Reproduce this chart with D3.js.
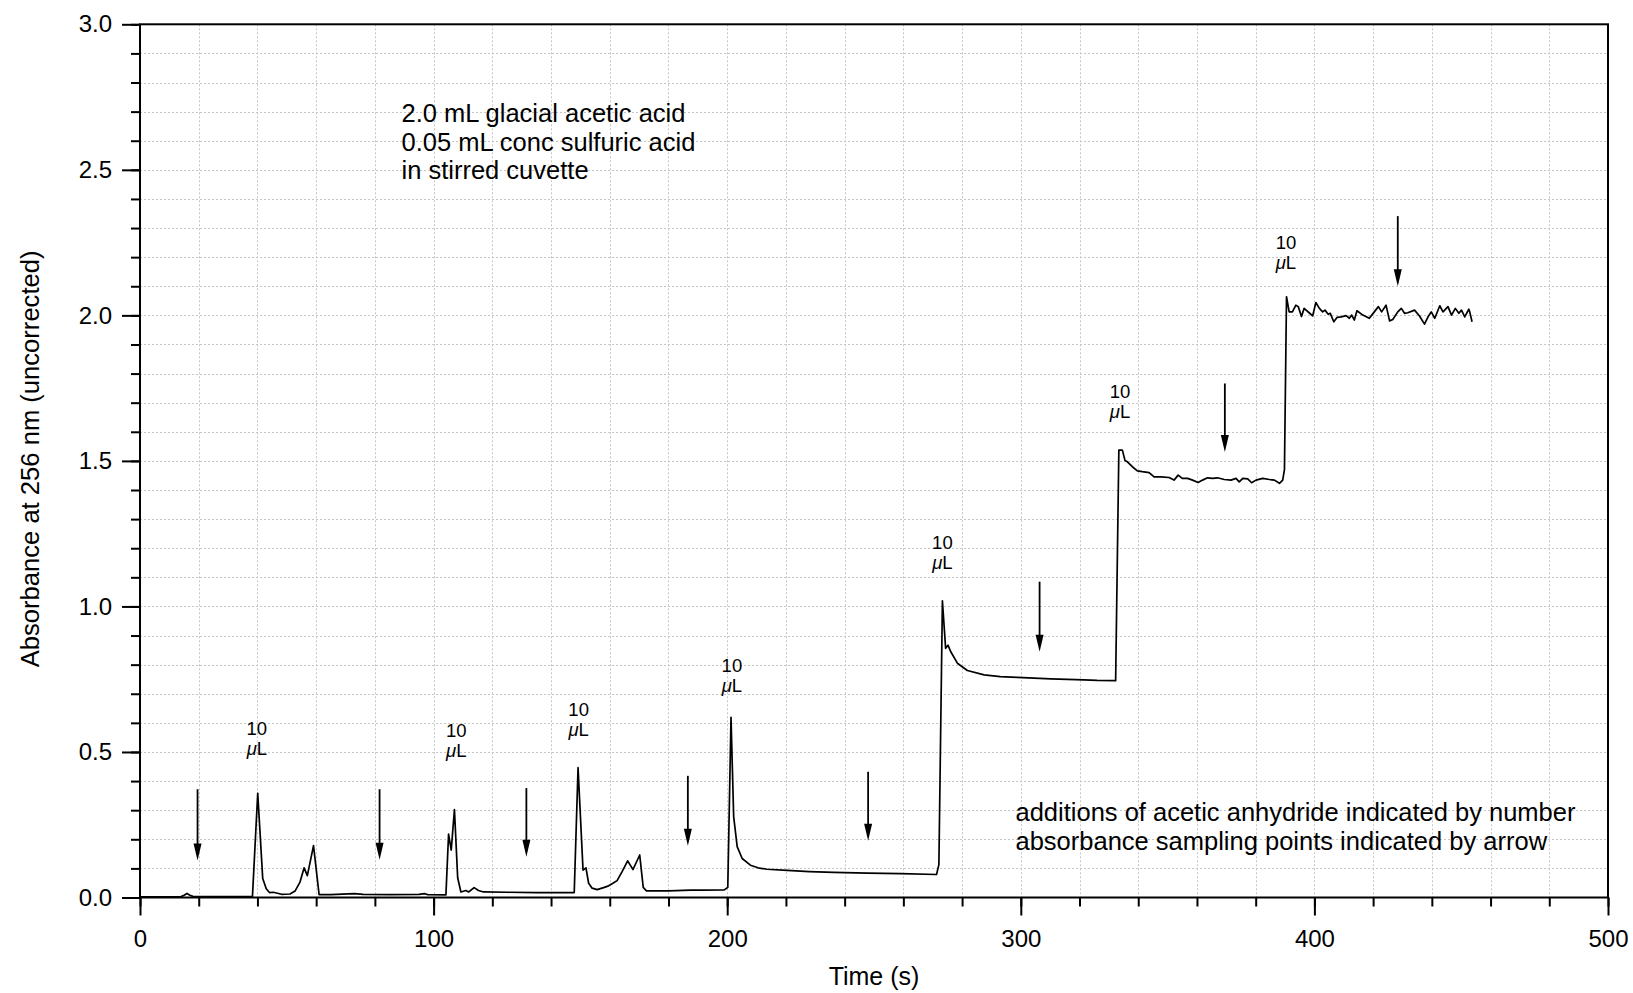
<!DOCTYPE html>
<html>
<head>
<meta charset="utf-8">
<script src="https://cdn.jsdelivr.net/npm/d3@7"></script>
<style>
  html, body { margin: 0; padding: 0; background: #fff; }
  svg { display: block; }
  text { font-family: "Liberation Sans", Arial, Helvetica, sans-serif; fill: #000; }
</style>
</head>
<body>
<svg id="chart" width="1633" height="993"></svg>
<script>
// ---------------- data ----------------
const timeS = [
  0, 5, 10, 14, 15, 16, 17, 18, 22, 30, 38.3,
  40.1, 41.8, 43, 44.1, 45.4, 48.2, 51.1, 52.8, 54.5, 55.9, 57.0, 59.1, 61.0,
  65, 73, 76, 85, 95, 97, 98, 104.2,
  105.1, 106.0, 107.1, 108.2, 109.3, 111.0, 111.9, 113.8, 115.3, 117.0, 125, 135, 147.9,
  149.2, 150.9, 151.9, 152.8, 154.0, 155.7, 157.9, 159.6, 160.8, 162.5, 164.2, 166.1, 167.9, 170.2, 171.4, 172.5,
  180, 187.5, 191, 199.0, 200.2,
  201.3, 202.2, 203.4, 205.1, 207.9, 210.5, 213.6, 220.4, 228, 236.3, 247.7, 259.1, 271.3, 272.1,
  273.3, 274.4, 275.2, 276.1, 278.4, 281.8, 287.5, 293, 298.8, 310.2, 321.5, 326.0, 332.3,
  333.4, 334.6, 335.5, 336.3, 338.0, 339.7, 341.4, 343.7, 345.4, 347.7, 350.5, 352.2, 353.6, 355.0, 356.8,
  358.5, 360.4, 361.9, 363.6, 365.3, 367.0, 369.3, 371.6, 373.3, 374.4, 375.6, 377.3, 378.6, 380.1, 382.4,
  384.7, 386.4, 388.1, 389.2, 389.8,
  390.5, 391.4, 392.5, 393.7, 394.5, 395.6, 396.5, 398.2, 399.4, 400.5, 401.7, 402.8, 403.6, 404.7, 405.4,
  406.6, 407.7, 409.1, 410.8, 411.9, 412.7, 413.6, 414.5, 416.5, 418.7, 420.4, 421.8, 422.9, 424.4, 425.6,
  426.7, 428.4, 429.6, 430.7, 431.8, 434.1, 435.8, 437.5, 438.7, 439.8, 441.0, 442.7, 443.8, 445.5, 446.7,
  448.0, 449.2, 450.1, 451.2, 452.6, 452.9, 453.7
];
const absorbance = [
  0.002, 0.002, 0.002, 0.003, 0.008, 0.014, 0.008, 0.004, 0.003, 0.003, 0.004,
  0.358, 0.065, 0.030, 0.017, 0.018, 0.011, 0.012, 0.022, 0.053, 0.102, 0.075, 0.178, 0.010,
  0.010, 0.013, 0.011, 0.010, 0.011, 0.013, 0.010, 0.009,
  0.218, 0.163, 0.302, 0.068, 0.019, 0.024, 0.019, 0.034, 0.024, 0.019, 0.018, 0.017, 0.017,
  0.446, 0.094, 0.102, 0.049, 0.032, 0.027, 0.034, 0.040, 0.047, 0.058, 0.089, 0.126, 0.096, 0.146, 0.035, 0.023,
  0.023, 0.025, 0.025, 0.026, 0.035,
  0.619, 0.278, 0.175, 0.134, 0.111, 0.102, 0.097, 0.093, 0.089, 0.086, 0.084, 0.082, 0.079, 0.113,
  1.019, 0.856, 0.867, 0.845, 0.805, 0.780, 0.765, 0.759, 0.756, 0.751, 0.748, 0.746, 0.745,
  1.537, 1.537, 1.501, 1.497, 1.480, 1.466, 1.463, 1.460, 1.445, 1.445, 1.443, 1.434, 1.451, 1.440, 1.440,
  1.434, 1.426, 1.434, 1.442, 1.440, 1.442, 1.436, 1.434, 1.440, 1.428, 1.440, 1.438, 1.425, 1.434, 1.440,
  1.436, 1.434, 1.423, 1.434, 1.470,
  2.064, 2.012, 2.012, 2.035, 2.030, 1.996, 2.024, 2.009, 1.998, 2.044, 2.024, 2.012, 2.018, 2.004, 2.007,
  1.978, 1.993, 1.995, 1.999, 1.990, 2.001, 1.984, 2.016, 2.001, 1.990, 2.012, 2.030, 2.012, 2.035, 1.981,
  1.986, 2.012, 2.024, 2.007, 2.009, 2.018, 1.998, 1.970, 1.995, 2.012, 1.990, 2.033, 2.012, 2.030, 2.001,
  2.024, 2.007, 2.018, 1.995, 2.021, 2.012, 1.978
];

// sampling-point arrows: time, top of shaft, tip
const arrowTime = [19.6, 81.6, 131.6, 186.6, 248.0, 306.4, 369.5, 428.4];
const arrowTop  = [0.372, 0.372, 0.376, 0.418, 0.432, 1.085, 1.766, 2.341];
const arrowTip  = [0.127, 0.130, 0.140, 0.178, 0.195, 0.844, 1.531, 2.100];

// addition labels ("10 µL"): time, absorbance of the "10" line
const addTime  = [39.8, 107.7, 149.4, 201.6, 273.3, 333.8, 390.3];
const addLevel = [0.580, 0.574, 0.646, 0.797, 1.220, 1.738, 2.251];
const addNumber = "10";
const addUnit = ["\u03BC", "L"];

const xMajorTicks = [0, 100, 200, 300, 400, 500];
const yMajorTicks = [0.0, 0.5, 1.0, 1.5, 2.0, 2.5, 3.0];

const xTitle = "Time (s)";
const yTitle = "Absorbance at 256 nm (uncorrected)";
const noteTop = ["2.0 mL glacial acetic acid", "0.05 mL conc sulfuric acid", "in stirred cuvette"];
const noteBottom = ["additions of acetic anhydride indicated by number", "absorbance sampling points indicated by arrow"];

// ---------------- layout ----------------
const W = 1633, H = 993;
const L = 140, R = 1608, T = 24.3, B = 897.5;

const svg = d3.select("#chart");
const x = d3.scaleLinear().domain([0, 500]).range([L, R]);
const y = d3.scaleLinear().domain([0, 3]).range([B, T]);

const xMinor = d3.range(0, 501, 20);
const yMinor = d3.range(0, 31).map(i => i / 10);

// grid
const grid = svg.append("g").attr("stroke", "#c6c6c6").attr("stroke-width", 1).attr("stroke-dasharray", "2,2");
xMinor.filter(v => v > 0 && v < 500).forEach(v => {
  grid.append("line").attr("x1", Math.round(x(v)) + 0.5).attr("x2", Math.round(x(v)) + 0.5).attr("y1", T).attr("y2", B);
});
yMinor.filter(v => v > 0 && v < 3).forEach(v => {
  grid.append("line").attr("y1", Math.round(y(v)) + 0.5).attr("y2", Math.round(y(v)) + 0.5).attr("x1", L).attr("x2", R);
});

// axes: minor ticks
const xAxisMinor = d3.axisBottom(x).tickValues(xMinor).tickSize(9).tickSizeOuter(0).tickFormat("");
const yAxisMinor = d3.axisLeft(y).tickValues(yMinor).tickSize(9).tickSizeOuter(0).tickFormat("");
// major ticks with labels
const xAxisMajor = d3.axisBottom(x).tickValues(xMajorTicks).tickSize(18).tickSizeOuter(0).tickPadding(14).tickFormat(d3.format("d"));
const yAxisMajor = d3.axisLeft(y).tickValues(yMajorTicks).tickSize(18).tickSizeOuter(0).tickPadding(10).tickFormat(d3.format(".1f"));

function styleAxis(g) {
  g.select(".domain").remove();
  g.selectAll(".tick line").attr("stroke", "#000").attr("stroke-width", 2);
  g.selectAll(".tick text").attr("font-size", 24).attr("font-family", "Liberation Sans, Arial, sans-serif").attr("fill", "#000");
}
svg.append("g").attr("transform", `translate(0,${B})`).call(xAxisMinor).call(styleAxis);
svg.append("g").attr("transform", `translate(${L},0)`).call(yAxisMinor).call(styleAxis);
svg.append("g").attr("transform", `translate(0,${B})`).call(xAxisMajor).call(styleAxis);
svg.append("g").attr("transform", `translate(${L},0)`).call(yAxisMajor).call(styleAxis);

// frame
svg.append("rect").attr("x", L).attr("y", T).attr("width", R - L).attr("height", B - T)
  .attr("fill", "none").attr("stroke", "#000").attr("stroke-width", 2);

// trace
const pts = timeS.map((t, i) => [t, absorbance[i]]);
const line = d3.line().x(d => x(d[0])).y(d => y(d[1]));
svg.append("path").datum(pts).attr("d", line)
  .attr("fill", "none").attr("stroke", "#000").attr("stroke-width", 1.7).attr("stroke-linejoin", "round");

// arrows
const headLen = 17, headHalf = 4;
const arrows = svg.append("g");
arrowTime.forEach((t, i) => {
  const ax = x(t), y0 = y(arrowTop[i]), y1 = y(arrowTip[i]);
  arrows.append("line").attr("x1", ax).attr("x2", ax).attr("y1", y0).attr("y2", y1 - headLen + 2)
    .attr("stroke", "#000").attr("stroke-width", 1.8);
  arrows.append("path")
    .attr("d", `M${ax - headHalf},${y1 - headLen} L${ax + headHalf},${y1 - headLen} L${ax},${y1} Z`)
    .attr("fill", "#000");
});

// addition labels
const labs = svg.append("g").attr("font-size", 18.5).attr("text-anchor", "middle");
addTime.forEach((t, i) => {
  const lx = x(t), ly = y(addLevel[i]);
  labs.append("text").attr("x", lx).attr("y", ly).attr("dy", "0.35em").text(addNumber);
  const u = labs.append("text").attr("x", lx).attr("y", ly + 20).attr("dy", "0.35em");
  u.append("tspan").attr("font-style", "italic").text(addUnit[0]);
  u.append("tspan").text(addUnit[1]);
});

// notes
const nt = svg.append("g").attr("font-size", 25.5);
noteTop.forEach((s, i) => nt.append("text").attr("x", 401.5).attr("y", 121.7 + i * 28.8).text(s));
noteBottom.forEach((s, i) => nt.append("text").attr("x", 1015.5).attr("y", 820.7 + i * 28.8).text(s));

// axis titles
svg.append("text").attr("x", (L + R) / 2).attr("y", 985).attr("text-anchor", "middle").attr("font-size", 25).text(xTitle);
svg.append("text").attr("transform", `translate(39,${(T + B) / 2 - 2}) rotate(-90)`).attr("text-anchor", "middle")
  .attr("font-size", 25.6).text(yTitle);
</script>
</body>
</html>
